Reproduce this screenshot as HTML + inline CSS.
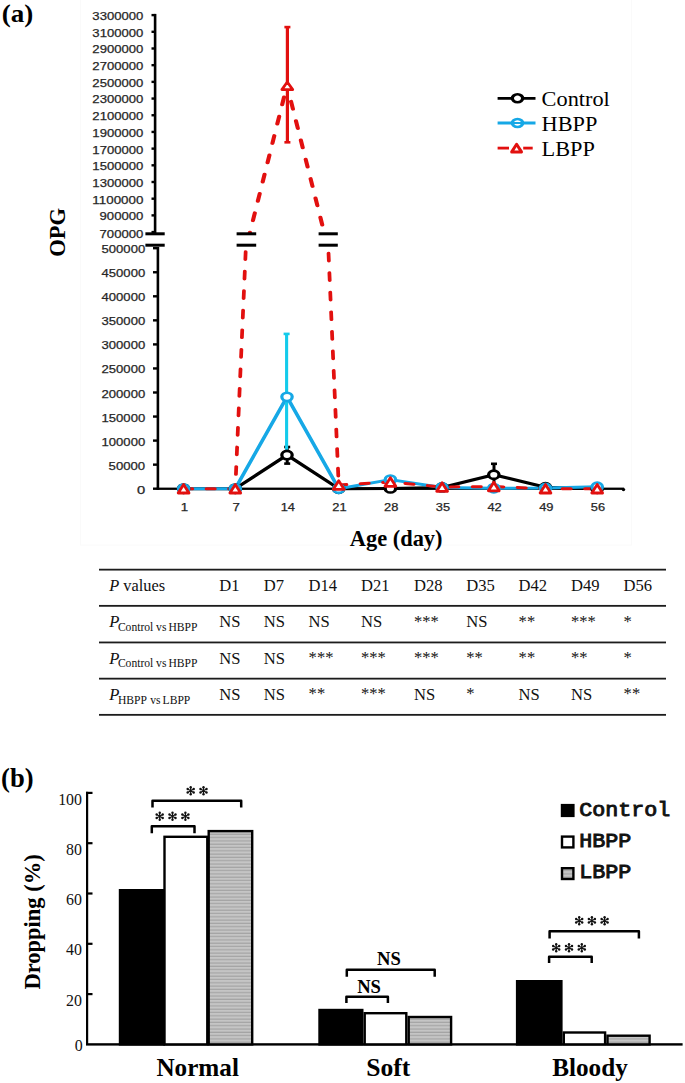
<!DOCTYPE html><html><head><meta charset="utf-8"><style>html,body{margin:0;padding:0;background:#fff;}svg{display:block;}</style></head><body>
<svg width="685" height="1083" viewBox="0 0 685 1083">
<defs>
<clipPath id="cu"><rect x="150" y="0" width="500" height="233.9"/></clipPath>
<clipPath id="cl"><rect x="150" y="248.2" width="500" height="260"/></clipPath>
<pattern id="hat" width="4" height="3.3" patternUnits="userSpaceOnUse"><rect width="4" height="3.3" fill="#c5c5c5"/><rect y="2.1" width="4" height="1.2" fill="#a4a4a4"/></pattern>
</defs>
<rect x="80.5" y="-1" width="551" height="546" fill="none" stroke="#fafafa" stroke-width="1"/>
<text x="1.8" y="21.6" font-family="Liberation Serif" font-weight="bold" font-size="25.6" textLength="31.6" lengthAdjust="spacingAndGlyphs">(a)</text>
<text x="143.4" y="20.01" text-anchor="end" font-family="Liberation Sans" font-size="10.9" fill="#262626" stroke="#262626" stroke-width="0.25" textLength="51.01" lengthAdjust="spacingAndGlyphs">3300000</text>
<rect x="151.5" y="13.91" width="4" height="2.4" fill="#000"/>
<text x="143.4" y="36.7" text-anchor="end" font-family="Liberation Sans" font-size="10.9" fill="#262626" stroke="#262626" stroke-width="0.25" textLength="51.01" lengthAdjust="spacingAndGlyphs">3100000</text>
<rect x="151.5" y="30.6" width="4" height="2.4" fill="#000"/>
<text x="143.4" y="53.39" text-anchor="end" font-family="Liberation Sans" font-size="10.9" fill="#262626" stroke="#262626" stroke-width="0.25" textLength="51.01" lengthAdjust="spacingAndGlyphs">2900000</text>
<rect x="151.5" y="47.29" width="4" height="2.4" fill="#000"/>
<text x="143.4" y="70.08" text-anchor="end" font-family="Liberation Sans" font-size="10.9" fill="#262626" stroke="#262626" stroke-width="0.25" textLength="51.01" lengthAdjust="spacingAndGlyphs">2700000</text>
<rect x="151.5" y="63.98" width="4" height="2.4" fill="#000"/>
<text x="143.4" y="86.77" text-anchor="end" font-family="Liberation Sans" font-size="10.9" fill="#262626" stroke="#262626" stroke-width="0.25" textLength="51.01" lengthAdjust="spacingAndGlyphs">2500000</text>
<rect x="151.5" y="80.67" width="4" height="2.4" fill="#000"/>
<text x="143.4" y="103.46" text-anchor="end" font-family="Liberation Sans" font-size="10.9" fill="#262626" stroke="#262626" stroke-width="0.25" textLength="51.01" lengthAdjust="spacingAndGlyphs">2300000</text>
<rect x="151.5" y="97.36" width="4" height="2.4" fill="#000"/>
<text x="143.4" y="120.15" text-anchor="end" font-family="Liberation Sans" font-size="10.9" fill="#262626" stroke="#262626" stroke-width="0.25" textLength="51.01" lengthAdjust="spacingAndGlyphs">2100000</text>
<rect x="151.5" y="114.05" width="4" height="2.4" fill="#000"/>
<text x="143.4" y="136.84" text-anchor="end" font-family="Liberation Sans" font-size="10.9" fill="#262626" stroke="#262626" stroke-width="0.25" textLength="51.01" lengthAdjust="spacingAndGlyphs">1900000</text>
<rect x="151.5" y="130.74" width="4" height="2.4" fill="#000"/>
<text x="143.4" y="153.53" text-anchor="end" font-family="Liberation Sans" font-size="10.9" fill="#262626" stroke="#262626" stroke-width="0.25" textLength="51.01" lengthAdjust="spacingAndGlyphs">1700000</text>
<rect x="151.5" y="147.43" width="4" height="2.4" fill="#000"/>
<text x="143.4" y="170.21" text-anchor="end" font-family="Liberation Sans" font-size="10.9" fill="#262626" stroke="#262626" stroke-width="0.25" textLength="51.01" lengthAdjust="spacingAndGlyphs">1500000</text>
<rect x="151.5" y="164.11" width="4" height="2.4" fill="#000"/>
<text x="143.4" y="186.9" text-anchor="end" font-family="Liberation Sans" font-size="10.9" fill="#262626" stroke="#262626" stroke-width="0.25" textLength="51.01" lengthAdjust="spacingAndGlyphs">1300000</text>
<rect x="151.5" y="180.8" width="4" height="2.4" fill="#000"/>
<text x="143.4" y="203.59" text-anchor="end" font-family="Liberation Sans" font-size="10.9" fill="#262626" stroke="#262626" stroke-width="0.25" textLength="51.01" lengthAdjust="spacingAndGlyphs">1100000</text>
<rect x="151.5" y="197.49" width="4" height="2.4" fill="#000"/>
<text x="143.4" y="220.28" text-anchor="end" font-family="Liberation Sans" font-size="10.9" fill="#262626" stroke="#262626" stroke-width="0.25" textLength="43.88" lengthAdjust="spacingAndGlyphs">900000</text>
<rect x="151.5" y="214.18" width="4" height="2.4" fill="#000"/>
<text x="143.4" y="238.27" text-anchor="end" font-family="Liberation Sans" font-size="10.9" fill="#262626" stroke="#262626" stroke-width="0.25" textLength="43.88" lengthAdjust="spacingAndGlyphs">700000</text>
<rect x="151.5" y="230.87" width="4" height="2.4" fill="#000"/>
<rect x="153.8" y="13.91" width="2.6" height="219.99" fill="#000"/>
<text x="145.2" y="253.2" text-anchor="end" font-family="Liberation Sans" font-size="10.9" fill="#262626" stroke="#262626" stroke-width="0.25" textLength="43.7" lengthAdjust="spacingAndGlyphs">500000</text>
<rect x="153" y="247" width="4" height="2.4" fill="#000"/>
<text x="145.2" y="277.25" text-anchor="end" font-family="Liberation Sans" font-size="10.9" fill="#262626" stroke="#262626" stroke-width="0.25" textLength="43.7" lengthAdjust="spacingAndGlyphs">450000</text>
<rect x="153" y="271.05" width="4" height="2.4" fill="#000"/>
<text x="145.2" y="301.3" text-anchor="end" font-family="Liberation Sans" font-size="10.9" fill="#262626" stroke="#262626" stroke-width="0.25" textLength="43.7" lengthAdjust="spacingAndGlyphs">400000</text>
<rect x="153" y="295.1" width="4" height="2.4" fill="#000"/>
<text x="145.2" y="325.35" text-anchor="end" font-family="Liberation Sans" font-size="10.9" fill="#262626" stroke="#262626" stroke-width="0.25" textLength="43.7" lengthAdjust="spacingAndGlyphs">350000</text>
<rect x="153" y="319.15" width="4" height="2.4" fill="#000"/>
<text x="145.2" y="349.4" text-anchor="end" font-family="Liberation Sans" font-size="10.9" fill="#262626" stroke="#262626" stroke-width="0.25" textLength="43.7" lengthAdjust="spacingAndGlyphs">300000</text>
<rect x="153" y="343.2" width="4" height="2.4" fill="#000"/>
<text x="145.2" y="373.45" text-anchor="end" font-family="Liberation Sans" font-size="10.9" fill="#262626" stroke="#262626" stroke-width="0.25" textLength="43.7" lengthAdjust="spacingAndGlyphs">250000</text>
<rect x="153" y="367.25" width="4" height="2.4" fill="#000"/>
<text x="145.2" y="397.5" text-anchor="end" font-family="Liberation Sans" font-size="10.9" fill="#262626" stroke="#262626" stroke-width="0.25" textLength="43.7" lengthAdjust="spacingAndGlyphs">200000</text>
<rect x="153" y="391.3" width="4" height="2.4" fill="#000"/>
<text x="145.2" y="421.55" text-anchor="end" font-family="Liberation Sans" font-size="10.9" fill="#262626" stroke="#262626" stroke-width="0.25" textLength="43.7" lengthAdjust="spacingAndGlyphs">150000</text>
<rect x="153" y="415.35" width="4" height="2.4" fill="#000"/>
<text x="145.2" y="445.6" text-anchor="end" font-family="Liberation Sans" font-size="10.9" fill="#262626" stroke="#262626" stroke-width="0.25" textLength="43.7" lengthAdjust="spacingAndGlyphs">100000</text>
<rect x="153" y="439.4" width="4" height="2.4" fill="#000"/>
<text x="145.2" y="469.65" text-anchor="end" font-family="Liberation Sans" font-size="10.9" fill="#262626" stroke="#262626" stroke-width="0.25" textLength="36.6" lengthAdjust="spacingAndGlyphs">50000</text>
<rect x="153" y="463.45" width="4" height="2.4" fill="#000"/>
<text x="145.2" y="493.7" text-anchor="end" font-family="Liberation Sans" font-size="10.9" fill="#262626" stroke="#262626" stroke-width="0.25" textLength="8.2" lengthAdjust="spacingAndGlyphs">0</text>
<rect x="153" y="487.5" width="4" height="2.4" fill="#000"/>
<rect x="156.6" y="247" width="2.6" height="242.9" fill="#000"/>
<rect x="156.6" y="487.6" width="467.5" height="2.3" fill="#000"/>
<circle cx="623.5" cy="489.6" r="1.7" fill="#000"/>
<text x="184.4" y="511.2" text-anchor="middle" font-family="Liberation Sans" font-size="10.9" fill="#262626" stroke="#262626" stroke-width="0.25" textLength="7.4" lengthAdjust="spacingAndGlyphs">1</text>
<text x="236.1" y="511.2" text-anchor="middle" font-family="Liberation Sans" font-size="10.9" fill="#262626" stroke="#262626" stroke-width="0.25" textLength="7.4" lengthAdjust="spacingAndGlyphs">7</text>
<text x="287.8" y="511.2" text-anchor="middle" font-family="Liberation Sans" font-size="10.9" fill="#262626" stroke="#262626" stroke-width="0.25" textLength="14.3" lengthAdjust="spacingAndGlyphs">14</text>
<text x="339.5" y="511.2" text-anchor="middle" font-family="Liberation Sans" font-size="10.9" fill="#262626" stroke="#262626" stroke-width="0.25" textLength="14.3" lengthAdjust="spacingAndGlyphs">21</text>
<text x="391.2" y="511.2" text-anchor="middle" font-family="Liberation Sans" font-size="10.9" fill="#262626" stroke="#262626" stroke-width="0.25" textLength="14.3" lengthAdjust="spacingAndGlyphs">28</text>
<text x="442.9" y="511.2" text-anchor="middle" font-family="Liberation Sans" font-size="10.9" fill="#262626" stroke="#262626" stroke-width="0.25" textLength="14.3" lengthAdjust="spacingAndGlyphs">35</text>
<text x="494.6" y="511.2" text-anchor="middle" font-family="Liberation Sans" font-size="10.9" fill="#262626" stroke="#262626" stroke-width="0.25" textLength="14.3" lengthAdjust="spacingAndGlyphs">42</text>
<text x="546.3" y="511.2" text-anchor="middle" font-family="Liberation Sans" font-size="10.9" fill="#262626" stroke="#262626" stroke-width="0.25" textLength="14.3" lengthAdjust="spacingAndGlyphs">49</text>
<text x="598" y="511.2" text-anchor="middle" font-family="Liberation Sans" font-size="10.9" fill="#262626" stroke="#262626" stroke-width="0.25" textLength="14.3" lengthAdjust="spacingAndGlyphs">56</text>
<text x="396.2" y="545.6" text-anchor="middle" font-family="Liberation Serif" font-weight="bold" font-size="22.4">Age (day)</text>
<text transform="translate(64.7,232.3) rotate(-90)" text-anchor="middle" font-family="Liberation Serif" font-weight="bold" font-size="22.5">OPG</text>
<g clip-path="url(#cu)"><g transform="matrix(1.25,0,0,1,0,0)"><polyline points="146.88,290.48 188.24,290.48 229.6,284.64 270.96,290.48 312.32,290.43 353.68,290.27 395.04,288.06 436.4,290.23 477.76,290.48" fill="none" stroke="#000" stroke-width="3.0" stroke-linejoin="round"/><polyline points="146.88,290.48 188.24,290.48 229.6,274.54 270.96,290.48 312.32,288.9 353.68,290.27 395.04,290.4 436.4,290.36 477.76,290.15" fill="none" stroke="#16a8e6" stroke-width="3.0" stroke-linejoin="round"/><polyline points="188.24,290.48 229.6,85.46" fill="none" stroke="#e2100f" stroke-width="3.3" stroke-linejoin="round" stroke-linecap="round" stroke-dasharray="7.6 12.1" stroke-dashoffset="7.4"/><polyline points="229.6,85.46 270.96,289.84" fill="none" stroke="#e2100f" stroke-width="3.3" stroke-linejoin="round" stroke-linecap="round" stroke-dasharray="7.6 12.1" stroke-dashoffset="3.3"/></g></g>
<g clip-path="url(#cl)"><g transform="matrix(1.25,0,0,1,0,0)"><polyline points="146.88,488.7 188.24,488.7 229.6,455.03 270.96,488.7 312.32,488.41 353.68,487.5 395.04,474.75 436.4,487.26 477.76,488.7" fill="none" stroke="#000" stroke-width="3.0" stroke-linejoin="round"/><polyline points="146.88,488.7 188.24,488.7 229.6,396.83 270.96,488.7 312.32,479.61 353.68,487.5 395.04,488.22 436.4,487.98 477.76,486.78" fill="none" stroke="#16a8e6" stroke-width="3.0" stroke-linejoin="round"/><polyline points="146.88,488.7 188.24,488.7" fill="none" stroke="#e2100f" stroke-width="3.0" stroke-linejoin="round" stroke-linecap="round" stroke-dasharray="6.7 11.3" stroke-dashoffset="17.7"/><polyline points="188.24,488.7 229.6,-693.12" fill="none" stroke="#e2100f" stroke-width="3.0" stroke-linejoin="round" stroke-linecap="round" stroke-dasharray="7.7 11.85" stroke-dashoffset="5.2"/><polyline points="229.6,-693.12 270.96,485" fill="none" stroke="#e2100f" stroke-width="3.0" stroke-linejoin="round" stroke-linecap="round" stroke-dasharray="7.7 11.85" stroke-dashoffset="10.95"/><polyline points="270.96,485 312.32,482.01 353.68,487.02 395.04,486.54 436.4,488.7 477.76,488.7" fill="none" stroke="#e2100f" stroke-width="3.0" stroke-linejoin="round" stroke-linecap="round" stroke-dasharray="6.7 11.3" stroke-dashoffset="0.5"/></g></g>
<line x1="287.2" y1="447" x2="287.2" y2="463.6" stroke="#000" stroke-width="3.0"/><line x1="284.2" y1="447" x2="290.2" y2="447" stroke="#000" stroke-width="2.6"/><line x1="284.2" y1="463.6" x2="290.2" y2="463.6" stroke="#000" stroke-width="2.6"/>
<line x1="286.6" y1="333.9" x2="286.6" y2="454" stroke="#14cbeb" stroke-width="3.1"/><line x1="283.6" y1="333.9" x2="289.6" y2="333.9" stroke="#14cbeb" stroke-width="2.6"/>
<line x1="494" y1="463.8" x2="494" y2="486" stroke="#000" stroke-width="3.0"/><line x1="491" y1="463.8" x2="497" y2="463.8" stroke="#000" stroke-width="2.6"/>
<line x1="287.4" y1="27.1" x2="287.4" y2="142.3" stroke="#e2100f" stroke-width="3.2"/><line x1="284.4" y1="27.1" x2="290.4" y2="27.1" stroke="#e2100f" stroke-width="2.6"/><line x1="284.4" y1="142.3" x2="290.4" y2="142.3" stroke="#e2100f" stroke-width="2.6"/>
<circle transform="translate(183.6,488.7) scale(1.25,1)" r="4.15" fill="#fff" stroke="#000" stroke-width="2.6"/>
<circle transform="translate(235.3,488.7) scale(1.25,1)" r="4.15" fill="#fff" stroke="#000" stroke-width="2.6"/>
<circle transform="translate(287,455.03) scale(1.25,1)" r="4.15" fill="#fff" stroke="#000" stroke-width="2.6"/>
<circle transform="translate(338.7,488.7) scale(1.25,1)" r="4.15" fill="#fff" stroke="#000" stroke-width="2.6"/>
<circle transform="translate(390.4,488.41) scale(1.25,1)" r="4.15" fill="#fff" stroke="#000" stroke-width="2.6"/>
<circle transform="translate(442.1,487.5) scale(1.25,1)" r="4.15" fill="#fff" stroke="#000" stroke-width="2.6"/>
<circle transform="translate(493.8,474.75) scale(1.25,1)" r="4.15" fill="#fff" stroke="#000" stroke-width="2.6"/>
<circle transform="translate(545.5,487.26) scale(1.25,1)" r="4.15" fill="#fff" stroke="#000" stroke-width="2.6"/>
<circle transform="translate(597.2,488.7) scale(1.25,1)" r="4.15" fill="#fff" stroke="#000" stroke-width="2.6"/>
<circle transform="translate(183.6,488.7) scale(1.25,1)" r="4.15" fill="#fff" stroke="#16a8e6" stroke-width="2.6"/>
<circle transform="translate(235.3,488.7) scale(1.25,1)" r="4.15" fill="#fff" stroke="#16a8e6" stroke-width="2.6"/>
<circle transform="translate(287,396.83) scale(1.25,1)" r="4.15" fill="#fff" stroke="#16a8e6" stroke-width="2.6"/>
<circle transform="translate(338.7,488.7) scale(1.25,1)" r="4.15" fill="#fff" stroke="#16a8e6" stroke-width="2.6"/>
<circle transform="translate(390.4,479.61) scale(1.25,1)" r="4.15" fill="#fff" stroke="#16a8e6" stroke-width="2.6"/>
<circle transform="translate(442.1,487.5) scale(1.25,1)" r="4.15" fill="#fff" stroke="#16a8e6" stroke-width="2.6"/>
<circle transform="translate(493.8,488.22) scale(1.25,1)" r="4.15" fill="#fff" stroke="#16a8e6" stroke-width="2.6"/>
<circle transform="translate(545.5,487.98) scale(1.25,1)" r="4.15" fill="#fff" stroke="#16a8e6" stroke-width="2.6"/>
<circle transform="translate(597.2,486.78) scale(1.25,1)" r="4.15" fill="#fff" stroke="#16a8e6" stroke-width="2.6"/>
<path d="M183.6 484.4L189 493L178.2 493Z" fill="#fff" stroke="#e2100f" stroke-width="2.8" stroke-linejoin="round"/>
<path d="M235.3 484.4L240.7 493L229.9 493Z" fill="#fff" stroke="#e2100f" stroke-width="2.8" stroke-linejoin="round"/>
<path d="M338.7 480.7L344.1 489.3L333.3 489.3Z" fill="#fff" stroke="#e2100f" stroke-width="2.8" stroke-linejoin="round"/>
<path d="M390.4 477.71L395.8 486.31L385 486.31Z" fill="#fff" stroke="#e2100f" stroke-width="2.8" stroke-linejoin="round"/>
<path d="M442.1 482.72L447.5 491.32L436.7 491.32Z" fill="#fff" stroke="#e2100f" stroke-width="2.8" stroke-linejoin="round"/>
<path d="M493.8 482.24L499.2 490.84L488.4 490.84Z" fill="#fff" stroke="#e2100f" stroke-width="2.8" stroke-linejoin="round"/>
<path d="M545.5 484.4L550.9 493L540.1 493Z" fill="#fff" stroke="#e2100f" stroke-width="2.8" stroke-linejoin="round"/>
<path d="M597.2 484.4L602.6 493L591.8 493Z" fill="#fff" stroke="#e2100f" stroke-width="2.8" stroke-linejoin="round"/>
<path d="M287.3 81.91L292.75 89.61L281.85 89.61Z" fill="#fff" stroke="#e2100f" stroke-width="2.7" stroke-linejoin="round"/>
<rect x="145.4" y="234.5" width="19.3" height="9.5" fill="#fff"/>
<rect x="145.4" y="232.3" width="19.3" height="3.0" fill="#000"/>
<rect x="145.4" y="243.7" width="19.3" height="3.0" fill="#000"/>
<rect x="236.6" y="234.5" width="19.6" height="9.5" fill="#fff"/>
<rect x="236.6" y="232.3" width="19.6" height="3.0" fill="#000"/>
<rect x="236.6" y="243.7" width="19.6" height="3.0" fill="#000"/>
<rect x="318.6" y="234.5" width="19.2" height="9.5" fill="#fff"/>
<rect x="318.6" y="232.3" width="19.2" height="3.0" fill="#000"/>
<rect x="318.6" y="243.7" width="19.2" height="3.0" fill="#000"/>
<line x1="497.6" y1="98.3" x2="535.5" y2="98.3" stroke="#000" stroke-width="2.8"/>
<circle transform="translate(517.5,98.3) scale(1.3,1)" r="4" fill="#fff" stroke="#000" stroke-width="2.6"/>
<text transform="translate(541.6,105.7) scale(1.083,1)" font-family="Liberation Serif" font-size="20.6">Control</text>
<line x1="497.6" y1="123" x2="535.5" y2="123" stroke="#16a8e6" stroke-width="2.8"/>
<circle transform="translate(517.5,123) scale(1.3,1)" r="4" fill="#fff" stroke="#16a8e6" stroke-width="2.6"/>
<line x1="513" y1="123" x2="522" y2="123" stroke="#16a8e6" stroke-width="2"/>
<text transform="translate(541.6,131.0) scale(1.083,1)" font-family="Liberation Serif" font-size="20.6">HBPP</text>
<line x1="497.6" y1="148.1" x2="509" y2="148.1" stroke="#e2100f" stroke-width="2.8"/>
<line x1="523.2" y1="148.1" x2="532.7" y2="148.1" stroke="#e2100f" stroke-width="2.8"/>
<path d="M516.6 144.3L521.5 151.9L511.7 151.9Z" fill="#fff" stroke="#e2100f" stroke-width="3.0" stroke-linejoin="round"/>
<text transform="translate(541.6,155.5) scale(1.083,1)" font-family="Liberation Serif" font-size="20.6">LBPP</text>
<rect x="99" y="568.75" width="567" height="1.8" fill="#1c1c1c"/>
<rect x="99" y="604.95" width="567" height="1.8" fill="#1c1c1c"/>
<rect x="99" y="641.55" width="567" height="1.8" fill="#1c1c1c"/>
<rect x="99" y="677.75" width="567" height="1.8" fill="#1c1c1c"/>
<rect x="99" y="713.95" width="567" height="1.8" fill="#1c1c1c"/>
<text x="109.2" y="591" font-family="Liberation Serif" font-size="16.4" fill="#111"><tspan font-style="italic">P</tspan> values</text>
<text x="219.2" y="591" font-family="Liberation Serif" font-size="16.6" fill="#111">D1</text>
<text x="263.7" y="591" font-family="Liberation Serif" font-size="16.6" fill="#111">D7</text>
<text x="308.6" y="591" font-family="Liberation Serif" font-size="16.6" fill="#111">D14</text>
<text x="361" y="591" font-family="Liberation Serif" font-size="16.6" fill="#111">D21</text>
<text x="414" y="591" font-family="Liberation Serif" font-size="16.6" fill="#111">D28</text>
<text x="466.3" y="591" font-family="Liberation Serif" font-size="16.6" fill="#111">D35</text>
<text x="518.6" y="591" font-family="Liberation Serif" font-size="16.6" fill="#111">D42</text>
<text x="571" y="591" font-family="Liberation Serif" font-size="16.6" fill="#111">D49</text>
<text x="623.6" y="591" font-family="Liberation Serif" font-size="16.6" fill="#111">D56</text>
<text x="109.2" y="627.3" font-family="Liberation Serif" font-size="16.6" fill="#111"><tspan font-style="italic">P</tspan></text>
<text y="631.2" font-family="Liberation Serif" font-size="11.6" fill="#111"><tspan x="117.9">Control</tspan><tspan x="156.1">vs</tspan><tspan x="168.4">HBPP</tspan></text>
<text x="219.2" y="627.3" font-family="Liberation Serif" font-size="16.6" fill="#111">NS</text>
<text x="263.7" y="627.3" font-family="Liberation Serif" font-size="16.6" fill="#111">NS</text>
<text x="308.6" y="627.3" font-family="Liberation Serif" font-size="16.6" fill="#111">NS</text>
<text x="361" y="627.3" font-family="Liberation Serif" font-size="16.6" fill="#111">NS</text>
<text x="414" y="626.7" font-family="Liberation Serif" font-size="16.6" fill="#111">***</text>
<text x="466.3" y="627.3" font-family="Liberation Serif" font-size="16.6" fill="#111">NS</text>
<text x="518.6" y="626.7" font-family="Liberation Serif" font-size="16.6" fill="#111">**</text>
<text x="571" y="626.7" font-family="Liberation Serif" font-size="16.6" fill="#111">***</text>
<text x="623.6" y="626.7" font-family="Liberation Serif" font-size="16.6" fill="#111">*</text>
<text x="109.2" y="663.5" font-family="Liberation Serif" font-size="16.6" fill="#111"><tspan font-style="italic">P</tspan></text>
<text y="667.4" font-family="Liberation Serif" font-size="11.6" fill="#111"><tspan x="117.9">Control</tspan><tspan x="156.1">vs</tspan><tspan x="168.4">HBPP</tspan></text>
<text x="219.2" y="663.5" font-family="Liberation Serif" font-size="16.6" fill="#111">NS</text>
<text x="263.7" y="663.5" font-family="Liberation Serif" font-size="16.6" fill="#111">NS</text>
<text x="308.6" y="662.9" font-family="Liberation Serif" font-size="16.6" fill="#111">***</text>
<text x="361" y="662.9" font-family="Liberation Serif" font-size="16.6" fill="#111">***</text>
<text x="414" y="662.9" font-family="Liberation Serif" font-size="16.6" fill="#111">***</text>
<text x="466.3" y="662.9" font-family="Liberation Serif" font-size="16.6" fill="#111">**</text>
<text x="518.6" y="662.9" font-family="Liberation Serif" font-size="16.6" fill="#111">**</text>
<text x="571" y="662.9" font-family="Liberation Serif" font-size="16.6" fill="#111">**</text>
<text x="623.6" y="662.9" font-family="Liberation Serif" font-size="16.6" fill="#111">*</text>
<text x="109.2" y="699.6" font-family="Liberation Serif" font-size="16.6" fill="#111"><tspan font-style="italic">P</tspan></text>
<text y="703.5" font-family="Liberation Serif" font-size="11.6" fill="#111"><tspan x="118">HBPP</tspan><tspan x="150.3">vs</tspan><tspan x="162.6">LBPP</tspan></text>
<text x="219.2" y="699.6" font-family="Liberation Serif" font-size="16.6" fill="#111">NS</text>
<text x="263.7" y="699.6" font-family="Liberation Serif" font-size="16.6" fill="#111">NS</text>
<text x="308.6" y="699" font-family="Liberation Serif" font-size="16.6" fill="#111">**</text>
<text x="361" y="699" font-family="Liberation Serif" font-size="16.6" fill="#111">***</text>
<text x="414" y="699.6" font-family="Liberation Serif" font-size="16.6" fill="#111">NS</text>
<text x="466.3" y="699" font-family="Liberation Serif" font-size="16.6" fill="#111">*</text>
<text x="518.6" y="699.6" font-family="Liberation Serif" font-size="16.6" fill="#111">NS</text>
<text x="571" y="699.6" font-family="Liberation Serif" font-size="16.6" fill="#111">NS</text>
<text x="623.6" y="699" font-family="Liberation Serif" font-size="16.6" fill="#111">**</text>
<text x="1.1" y="787.3" font-family="Liberation Serif" font-weight="bold" font-size="27.2" textLength="32.6" lengthAdjust="spacingAndGlyphs">(b)</text>
<rect x="86" y="791.8" width="2.2" height="252.6" fill="#000"/>
<rect x="86" y="1043.2" width="596.6" height="2.4" fill="#000"/>
<text x="82.8" y="1051.1" text-anchor="end" font-family="Liberation Serif" font-size="15.9" fill="#111">0</text>
<rect x="86" y="993" width="6.5" height="2.2" fill="#000"/>
<text x="82.0" y="1006.1" text-anchor="end" font-family="Liberation Serif" font-size="15.9" fill="#111">20</text>
<rect x="86" y="942.7" width="6.5" height="2.2" fill="#000"/>
<text x="82.0" y="955.4" text-anchor="end" font-family="Liberation Serif" font-size="15.9" fill="#111">40</text>
<rect x="86" y="892.4" width="6.5" height="2.2" fill="#000"/>
<text x="82.0" y="904.9" text-anchor="end" font-family="Liberation Serif" font-size="15.9" fill="#111">60</text>
<rect x="86" y="842.1" width="6.5" height="2.2" fill="#000"/>
<text x="82.0" y="855.4" text-anchor="end" font-family="Liberation Serif" font-size="15.9" fill="#111">80</text>
<rect x="86" y="791.8" width="6.5" height="2.2" fill="#000"/>
<text x="82.0" y="805.4" text-anchor="end" font-family="Liberation Serif" font-size="15.9" fill="#111">100</text>
<text transform="translate(40.2,922) rotate(-90)" text-anchor="middle" font-family="Liberation Serif" font-weight="bold" font-size="22.5">Dropping (%)</text>
<rect x="120" y="890.2" width="43.8" height="154.2" fill="#000" stroke="#000" stroke-width="2.4"/>
<rect x="164.5" y="836.8" width="42.8" height="207.6" fill="#fff" stroke="#000" stroke-width="2.4"/>
<rect x="208.7" y="831.1" width="43.5" height="213.3" fill="url(#hat)" stroke="#000" stroke-width="2.4"/>
<rect x="319.5" y="1010" width="42.8" height="34.4" fill="#000" stroke="#000" stroke-width="2.4"/>
<rect x="364.7" y="1013.2" width="41.6" height="31.2" fill="#fff" stroke="#000" stroke-width="2.4"/>
<rect x="408.7" y="1017" width="42.4" height="27.4" fill="url(#hat)" stroke="#000" stroke-width="2.4"/>
<rect x="517.1" y="981.2" width="44.3" height="63.2" fill="#000" stroke="#000" stroke-width="2.4"/>
<rect x="563.8" y="1032.5" width="41.3" height="11.9" fill="#fff" stroke="#000" stroke-width="2.4"/>
<rect x="607.5" y="1035.7" width="42.1" height="8.7" fill="url(#hat)" stroke="#000" stroke-width="2.4"/>
<path d="M152.5 807.4V800.8H241.2V807.4" fill="none" stroke="#000" stroke-width="2.5" stroke-linejoin="round"/>
<path d="M151.8 833.3V826.3H194.5V833.3" fill="none" stroke="#000" stroke-width="2.5" stroke-linejoin="round"/>
<path d="M346.8 976.7V969.7H434.7V976.7" fill="none" stroke="#000" stroke-width="2.5" stroke-linejoin="round"/>
<path d="M346.4 1003V996.8H387.9V1003" fill="none" stroke="#000" stroke-width="2.5" stroke-linejoin="round"/>
<path d="M549.6 938.6V931.3H638.9V938.6" fill="none" stroke="#000" stroke-width="2.5" stroke-linejoin="round"/>
<path d="M549.1 963V956.8H591.7V963" fill="none" stroke="#000" stroke-width="2.5" stroke-linejoin="round"/>
<path d="M190.7 787.2L190.7 794.2M187.67 788.95L193.73 792.45M187.67 792.45L193.73 788.95" stroke="#111" stroke-width="1.25" fill="none"/><circle cx="190.7" cy="787.2" r="1.2" fill="#111"/><circle cx="193.73" cy="788.95" r="1.2" fill="#111"/><circle cx="193.73" cy="792.45" r="1.2" fill="#111"/><circle cx="190.7" cy="794.2" r="1.2" fill="#111"/><circle cx="187.67" cy="792.45" r="1.2" fill="#111"/><circle cx="187.67" cy="788.95" r="1.2" fill="#111"/>
<path d="M203.5 787.2L203.5 794.2M200.47 788.95L206.53 792.45M200.47 792.45L206.53 788.95" stroke="#111" stroke-width="1.25" fill="none"/><circle cx="203.5" cy="787.2" r="1.2" fill="#111"/><circle cx="206.53" cy="788.95" r="1.2" fill="#111"/><circle cx="206.53" cy="792.45" r="1.2" fill="#111"/><circle cx="203.5" cy="794.2" r="1.2" fill="#111"/><circle cx="200.47" cy="792.45" r="1.2" fill="#111"/><circle cx="200.47" cy="788.95" r="1.2" fill="#111"/>
<path d="M159.7 812.7L159.7 819.7M156.67 814.45L162.73 817.95M156.67 817.95L162.73 814.45" stroke="#111" stroke-width="1.25" fill="none"/><circle cx="159.7" cy="812.7" r="1.2" fill="#111"/><circle cx="162.73" cy="814.45" r="1.2" fill="#111"/><circle cx="162.73" cy="817.95" r="1.2" fill="#111"/><circle cx="159.7" cy="819.7" r="1.2" fill="#111"/><circle cx="156.67" cy="817.95" r="1.2" fill="#111"/><circle cx="156.67" cy="814.45" r="1.2" fill="#111"/>
<path d="M172.5 812.7L172.5 819.7M169.47 814.45L175.53 817.95M169.47 817.95L175.53 814.45" stroke="#111" stroke-width="1.25" fill="none"/><circle cx="172.5" cy="812.7" r="1.2" fill="#111"/><circle cx="175.53" cy="814.45" r="1.2" fill="#111"/><circle cx="175.53" cy="817.95" r="1.2" fill="#111"/><circle cx="172.5" cy="819.7" r="1.2" fill="#111"/><circle cx="169.47" cy="817.95" r="1.2" fill="#111"/><circle cx="169.47" cy="814.45" r="1.2" fill="#111"/>
<path d="M185.4 812.7L185.4 819.7M182.37 814.45L188.43 817.95M182.37 817.95L188.43 814.45" stroke="#111" stroke-width="1.25" fill="none"/><circle cx="185.4" cy="812.7" r="1.2" fill="#111"/><circle cx="188.43" cy="814.45" r="1.2" fill="#111"/><circle cx="188.43" cy="817.95" r="1.2" fill="#111"/><circle cx="185.4" cy="819.7" r="1.2" fill="#111"/><circle cx="182.37" cy="817.95" r="1.2" fill="#111"/><circle cx="182.37" cy="814.45" r="1.2" fill="#111"/>
<path d="M579.2 917.2L579.2 924.2M576.17 918.95L582.23 922.45M576.17 922.45L582.23 918.95" stroke="#111" stroke-width="1.25" fill="none"/><circle cx="579.2" cy="917.2" r="1.2" fill="#111"/><circle cx="582.23" cy="918.95" r="1.2" fill="#111"/><circle cx="582.23" cy="922.45" r="1.2" fill="#111"/><circle cx="579.2" cy="924.2" r="1.2" fill="#111"/><circle cx="576.17" cy="922.45" r="1.2" fill="#111"/><circle cx="576.17" cy="918.95" r="1.2" fill="#111"/>
<path d="M591.9 917.2L591.9 924.2M588.87 918.95L594.93 922.45M588.87 922.45L594.93 918.95" stroke="#111" stroke-width="1.25" fill="none"/><circle cx="591.9" cy="917.2" r="1.2" fill="#111"/><circle cx="594.93" cy="918.95" r="1.2" fill="#111"/><circle cx="594.93" cy="922.45" r="1.2" fill="#111"/><circle cx="591.9" cy="924.2" r="1.2" fill="#111"/><circle cx="588.87" cy="922.45" r="1.2" fill="#111"/><circle cx="588.87" cy="918.95" r="1.2" fill="#111"/>
<path d="M604.6 917.2L604.6 924.2M601.57 918.95L607.63 922.45M601.57 922.45L607.63 918.95" stroke="#111" stroke-width="1.25" fill="none"/><circle cx="604.6" cy="917.2" r="1.2" fill="#111"/><circle cx="607.63" cy="918.95" r="1.2" fill="#111"/><circle cx="607.63" cy="922.45" r="1.2" fill="#111"/><circle cx="604.6" cy="924.2" r="1.2" fill="#111"/><circle cx="601.57" cy="922.45" r="1.2" fill="#111"/><circle cx="601.57" cy="918.95" r="1.2" fill="#111"/>
<path d="M556.2 944.3L556.2 951.3M553.17 946.05L559.23 949.55M553.17 949.55L559.23 946.05" stroke="#111" stroke-width="1.25" fill="none"/><circle cx="556.2" cy="944.3" r="1.2" fill="#111"/><circle cx="559.23" cy="946.05" r="1.2" fill="#111"/><circle cx="559.23" cy="949.55" r="1.2" fill="#111"/><circle cx="556.2" cy="951.3" r="1.2" fill="#111"/><circle cx="553.17" cy="949.55" r="1.2" fill="#111"/><circle cx="553.17" cy="946.05" r="1.2" fill="#111"/>
<path d="M569 944.3L569 951.3M565.97 946.05L572.03 949.55M565.97 949.55L572.03 946.05" stroke="#111" stroke-width="1.25" fill="none"/><circle cx="569" cy="944.3" r="1.2" fill="#111"/><circle cx="572.03" cy="946.05" r="1.2" fill="#111"/><circle cx="572.03" cy="949.55" r="1.2" fill="#111"/><circle cx="569" cy="951.3" r="1.2" fill="#111"/><circle cx="565.97" cy="949.55" r="1.2" fill="#111"/><circle cx="565.97" cy="946.05" r="1.2" fill="#111"/>
<path d="M581.8 944.3L581.8 951.3M578.77 946.05L584.83 949.55M578.77 949.55L584.83 946.05" stroke="#111" stroke-width="1.25" fill="none"/><circle cx="581.8" cy="944.3" r="1.2" fill="#111"/><circle cx="584.83" cy="946.05" r="1.2" fill="#111"/><circle cx="584.83" cy="949.55" r="1.2" fill="#111"/><circle cx="581.8" cy="951.3" r="1.2" fill="#111"/><circle cx="578.77" cy="949.55" r="1.2" fill="#111"/><circle cx="578.77" cy="946.05" r="1.2" fill="#111"/>
<text x="377.1" y="965" font-family="Liberation Serif" font-weight="bold" font-size="18.6">NS</text>
<text x="357.2" y="993.3" font-family="Liberation Serif" font-weight="bold" font-size="18.6">NS</text>
<text x="156.4" y="1075.7" font-family="Liberation Serif" font-weight="bold" font-size="25.2">Normal</text>
<text x="366.2" y="1075.7" font-family="Liberation Serif" font-weight="bold" font-size="25.6">Soft</text>
<text x="552.2" y="1075.7" font-family="Liberation Serif" font-weight="bold" font-size="25.2">Bloody</text>
<rect x="562" y="805.1" width="11.4" height="10.8" fill="#000" stroke="#000" stroke-width="2.4"/>
<text x="579.2" y="815.7" font-family="Liberation Mono" font-size="19.4" fill="#111" stroke="#111" stroke-width="0.9" textLength="91" lengthAdjust="spacingAndGlyphs">Control</text>
<rect x="562" y="836.6" width="11.4" height="10.8" fill="#fff" stroke="#000" stroke-width="2.4"/>
<text x="579.2" y="846.6" font-family="Liberation Mono" font-size="19.4" fill="#111" stroke="#111" stroke-width="0.9" textLength="52" lengthAdjust="spacingAndGlyphs">HBPP</text>
<rect x="562" y="868.2" width="11.4" height="10.8" fill="url(#hat)" stroke="#000" stroke-width="2.4"/>
<text x="579.2" y="877.8" font-family="Liberation Mono" font-size="19.4" fill="#111" stroke="#111" stroke-width="0.9" textLength="52" lengthAdjust="spacingAndGlyphs">LBPP</text>
</svg></body></html>
